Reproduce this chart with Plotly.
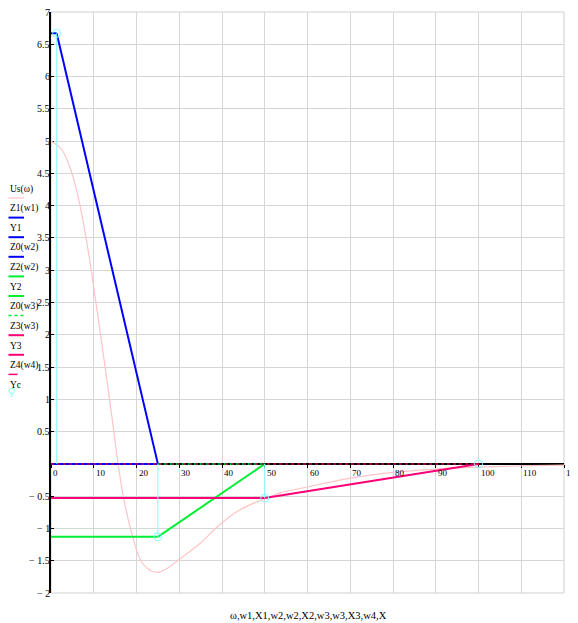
import plotly.graph_objects as go

# ---- data ----
us_w = [0, 2.5, 4.9, 6.8, 8.2, 9.4, 10.5, 11.6, 12.65, 13.7, 14.7, 15.7, 16.9, 18.6, 21.0,
        23.0, 25.0, 27.1, 30.2, 34.9, 39.5, 44.2, 50.0, 53.6, 60.6, 70.0, 80.0, 90.0, 100.0, 110.0, 120.0]
us_v = [5.0, 4.87, 4.5, 4.0, 3.5, 3.0, 2.5, 2.0, 1.5, 1.0, 0.5, 0.0, -0.5, -1.0, -1.5,
        -1.64, -1.68, -1.62, -1.47, -1.23, -0.94, -0.71, -0.54, -0.45, -0.35, -0.22, -0.13, -0.08, -0.05, -0.03, -0.02]

w1 = [1.33, 25]
Z1 = [6.67, 0]
Y1_x = [0, 1.33]
Y1 = [6.67, 6.67]
w2_0 = [0, 25]
Z0_2 = [0, 0]
w2 = [25, 50]
Z2 = [-1.13, 0]
Y2_x = [0, 25]
Y2 = [-1.13, -1.13]
w3_0 = [25, 50]
Z0_3 = [0, 0]
w3 = [50, 100]
Z3 = [-0.53, 0]
Y3_x = [0, 50]
Y3 = [-0.53, -0.53]
w4 = [0, 100]
Z4 = [0, 0]
Xc = [1.33, 25, 50, 100]
Yc = [6.67, -1.13, -0.53, 0]

x_ticks = [0, 10, 20, 30, 40, 50, 60, 70, 80, 90, 100, 110, 120]
y_ticks = [-2, -1.5, -1, -0.5, 0, 0.5, 1, 1.5, 2, 2.5, 3, 3.5, 4, 4.5, 5, 5.5, 6, 6.5, 7]
y_ticktext = ["\u2212 2", "\u2212 1.5", "\u2212 1", "\u2212 0.5", "", "0.5", "1", "1.5", "2", "2.5",
              "3", "3.5", "4", "4.5", "5", "5.5", "6", "6.5", "7"]

legend_names = ["Us(\u03c9)", "Z1(w1)", "Y1", "Z0(w2)", "Z2(w2)", "Y2", "Z0(w3)", "Z3(w3)", "Y3", "Z4(w4)", "Yc"]

PINK = "#ffc4c4"
BLUE = "#0000ff"
GREEN = "#00ee33"
MAG = "#ff0077"
DMAG = "#c00050"
CYAN = "#80ffff"
FONT = "Liberation Serif"

# page geometry (the page body has an 8px margin)
OFF = 8
PAGE_W, PAGE_H = 578, 623
PL, PR, PT, PB = 51, 564, 12, 593   # plot area in page pixels
W, H = PAGE_W - OFF, PAGE_H - OFF
L, T = PL - OFF, PT - OFF
R, B = PAGE_W - PR, PAGE_H - PB


def px(x):
    return (x - PL) / (PR - PL)


def py(y):
    return (PB - y) / (PB - PT)


fig = go.Figure()

fig.add_trace(go.Scatter(x=us_w, y=us_v, mode="lines", line=dict(color=PINK, width=1.2, shape="spline", smoothing=1.0)))
fig.add_trace(go.Scatter(x=w1, y=Z1, mode="lines", line=dict(color=BLUE, width=2)))
fig.add_trace(go.Scatter(x=Y1_x, y=Y1, mode="lines", line=dict(color=BLUE, width=2)))
fig.add_trace(go.Scatter(x=w2_0, y=Z0_2, mode="lines", line=dict(color=BLUE, width=2)))
fig.add_trace(go.Scatter(x=w2, y=Z2, mode="lines", line=dict(color=GREEN, width=2)))
fig.add_trace(go.Scatter(x=Y2_x, y=Y2, mode="lines", line=dict(color=GREEN, width=2)))
fig.add_trace(go.Scatter(x=w3_0, y=Z0_3, mode="lines", line=dict(color=GREEN, width=1.5, dash="dot")))
fig.add_trace(go.Scatter(x=w3, y=Z3, mode="lines", line=dict(color=MAG, width=2)))
fig.add_trace(go.Scatter(x=Y3_x, y=Y3, mode="lines", line=dict(color=MAG, width=2)))
fig.add_trace(go.Scatter(x=w4, y=Z4, mode="lines", line=dict(color=DMAG, width=1.5, dash="dot")))

# Yc stems + open circles
sx, sy = [], []
for xv, yv in zip(Xc, Yc):
    sx += [xv, xv, None]
    sy += [0, yv, None]
fig.add_trace(go.Scatter(x=sx, y=sy, mode="lines", line=dict(color=CYAN, width=1)))
fig.add_trace(go.Scatter(x=Xc, y=Yc, mode="markers",
                         marker=dict(symbol="circle-open", size=8, color=CYAN, line=dict(width=1, color=CYAN))))

shapes = []
annotations = []
# plot border (gray)
shapes.append(dict(type="rect", xref="paper", yref="paper", x0=0, x1=1, y0=0, y1=1,
                   line=dict(color="#d0d0d0", width=1), layer="below"))

# x tick labels (left-aligned just right of each tick, below the zero line)
for xv in x_ticks:
    annotations.append(dict(x=xv, y=0, xref="x", yref="y", text=str(xv), showarrow=False,
                            xanchor="left", yanchor="top", xshift=0, yshift=-2,
                            font=dict(family=FONT, size=9, color="#000000")))

# y tick labels (right-aligned against the axis)
for yv, txt in zip(y_ticks, y_ticktext):
    if txt:
        annotations.append(dict(x=0, y=yv, xref="paper", yref="y", text=txt, showarrow=False,
                                xanchor="right", yanchor="middle", xshift=1,
                                font=dict(family=FONT, size=10, color="#000000")))

# legend
leg_styles = [
    (PINK, 1.2, "solid"), (BLUE, 2, "solid"), (BLUE, 2, "solid"), (BLUE, 2, "solid"),
    (GREEN, 2, "solid"), (GREEN, 2, "solid"), (GREEN, 1.5, "dot"), (MAG, 2, "solid"),
    (MAG, 2, "solid"), (MAG, 1.5, "dash"), None,
]
for i, name in enumerate(legend_names):
    ty = 189 + 19.6 * i
    annotations.append(dict(x=px(OFF), y=py(ty), xref="paper", yref="paper", text=name, showarrow=False,
                            xanchor="left", yanchor="middle", font=dict(family=FONT, size=9.5, color="#000000")))
    st = leg_styles[i]
    ly = ty + 9
    if st is not None:
        shapes.append(dict(type="line", xref="paper", yref="paper", x0=px(OFF + 0.5), x1=px(24), y0=py(ly),
                           y1=py(ly), line=dict(color=st[0], width=st[1], dash=st[2])))
    else:
        shapes.append(dict(type="circle", xref="paper", yref="paper", x0=px(OFF + 1), x1=px(OFF + 6.5),
                           y0=py(ly - 5.5), y1=py(ly - 0.5), line=dict(color=CYAN, width=1)))
        shapes.append(dict(type="line", xref="paper", yref="paper", x0=px(OFF + 3.75), x1=px(OFF + 3.75),
                           y0=py(ly - 0.5), y1=py(ly + 3), line=dict(color=CYAN, width=1)))

annotations.append(dict(x=px(308), y=py(615), xref="paper", yref="paper",
                        text="\u03c9,w1,X1,w2,w2,X2,w3,w3,X3,w4,X", showarrow=False,
                        xanchor="center", yanchor="middle", font=dict(family=FONT, size=10.5, color="#000000")))

fig.update_layout(
    template="none",
    width=W, height=H, margin=dict(l=L, r=R, t=T, b=B, pad=0, autoexpand=False),
    paper_bgcolor="white", plot_bgcolor="white", showlegend=False,
    shapes=shapes, annotations=annotations,
    xaxis=dict(range=[0, 120], tickvals=x_ticks, showticklabels=False, automargin=False,
               anchor="free", position=2 / 9, showgrid=True, gridcolor="#d6d6d6", gridwidth=1,
               zeroline=False, showline=True, linecolor="#000000", linewidth=1.5,
               ticks="outside", ticklen=3, tickcolor="#000000",
               layer="below traces", fixedrange=True),
    yaxis=dict(range=[-2, 7], tickvals=y_ticks, showticklabels=False, automargin=False, showgrid=True,
               gridcolor="#d6d6d6",
               gridwidth=1, zeroline=False, showline=True, linecolor="#000000", linewidth=1.5,
               ticks="inside", ticklen=3, tickcolor="#000000",
               layer="below traces", fixedrange=True),
)

fig.write_html("out.html")
